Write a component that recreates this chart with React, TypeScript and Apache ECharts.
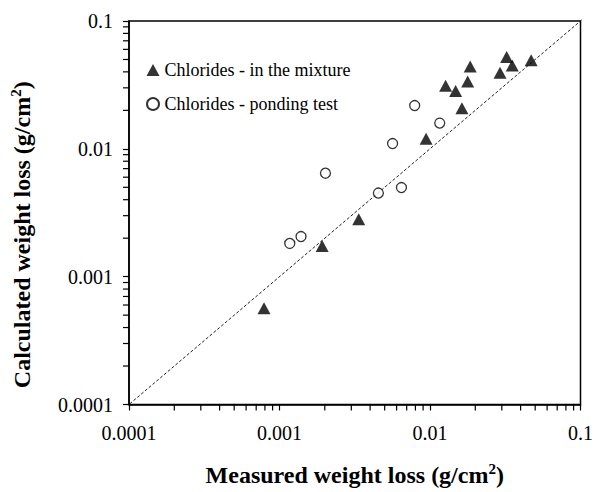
import React, { useEffect, useRef } from "react";
import * as echarts from "echarts";

// Measured (x) vs calculated (y) weight loss, g/cm2
const mixtureMeasured = [0.0185, 0.0323, 0.047, 0.0292, 0.0352, 0.0178, 0.0127, 0.0148, 0.0163, 0.00942, 0.00336, 0.00192, 0.000789];
const mixtureCalculated = [0.0441, 0.0524, 0.0494, 0.0393, 0.0449, 0.0336, 0.0312, 0.0283, 0.0208, 0.012, 0.00281, 0.00174, 0.000565];

const pondingMeasured = [0.00791, 0.0116, 0.00564, 0.00202, 0.00646, 0.00454, 0.00139, 0.00117];
const pondingCalculated = [0.0218, 0.0159, 0.011, 0.00645, 0.00498, 0.00451, 0.00206, 0.00182];

const seriesNames = ["Chlorides - in the mixture", "Chlorides - ponding test"];
const tickLabels = ["0.0001", "0.001", "0.01", "0.1"];
const axisMin = 0.0001;
const axisMax = 0.1;
const lineEnds = [0.00009, 0.11];

const FONT = "'Liberation Serif', 'Times New Roman', serif";

function minorTicks(): number[] {
  const out: number[] = [];
  for (let e = -4; e <= -2; e++) {
    for (let k = 2; k <= 9; k++) out.push(k * Math.pow(10, e));
  }
  return out;
}

export default function App() {
  const ref = useRef<HTMLDivElement>(null);
  useEffect(() => {
    if (!ref.current) return;
    const chart = echarts.init(ref.current, null, { renderer: "svg" });
    const minors = minorTicks();
    const fmt = (v: number) => {
      const e = Math.round(Math.log10(v));
      return tickLabels[e + 4] ?? "";
    };
    const rich = {
      t: { fontFamily: FONT, fontSize: 24, fontWeight: "bold", color: "#000", lineHeight: 27 },
      s: { fontFamily: FONT, fontSize: 15, fontWeight: "bold", color: "#000", lineHeight: 15, verticalAlign: "top" },
    };
    const axisCommon = {
      type: "log" as const,
      logBase: 10,
      min: axisMin,
      max: axisMax,
      axisLine: { lineStyle: { color: "#000", width: 1.5 } },
      axisTick: { show: true, inside: false, length: 6, lineStyle: { color: "#000", width: 1.2 } },
      splitLine: { show: false },
      axisLabel: { formatter: fmt, color: "#000", fontFamily: FONT, fontSize: 20 },
      nameLocation: "middle" as const,
    };
    chart.setOption({
      animation: false,
      backgroundColor: "#fff",
      grid: {
        left: 123,
        top: 21,
        right: 15,
        bottom: 72,
        show: true,
        borderColor: "#000",
        borderWidth: 1.5,
        backgroundColor: "transparent",
      },
      xAxis: {
        ...axisCommon,
        axisLabel: { ...axisCommon.axisLabel, margin: 18 },
        name: "{t|Measured weight loss (g/cm}{s|2}{t|)}",
        nameGap: 57,
        nameTextStyle: { rich },
      },
      yAxis: {
        ...axisCommon,
        axisLabel: { ...axisCommon.axisLabel, margin: 16 },
        name: "{t|Calculated weight loss (g/cm}{s|2}{t|)}",
        nameGap: 94,
        nameRotate: 90,
        nameTextStyle: { rich, padding: [0, 44, 0, 0] },
      },
      legend: {
        orient: "vertical",
        left: 141,
        top: 55,
        itemWidth: 13,
        itemHeight: 12,
        itemGap: 14,
        data: seriesNames,
        textStyle: { fontFamily: FONT, fontSize: 18, color: "#000", lineHeight: 20 },
        selectedMode: false,
      },
      series: [
        {
          type: "line",
          data: lineEnds.map((v) => [v, v]),
          symbol: "none",
          clip: false,
          silent: true,
          lineStyle: { color: "#222", width: 1, type: [3, 2] },
          z: 1,
        },
        {
          type: "custom",
          silent: true,
          clip: false,
          data: minors.map((v) => [v, axisMin]),
          renderItem: (params: any, api: any) => {
            const p = api.coord([api.value(0), axisMin]);
            return {
              type: "line",
              shape: { x1: p[0], y1: p[1], x2: p[0], y2: p[1] + 6 },
              style: { stroke: "#000", lineWidth: 1.2 },
            };
          },
          z: 3,
        },
        {
          type: "custom",
          silent: true,
          clip: false,
          data: minors.map((v) => [axisMin, v]),
          renderItem: (params: any, api: any) => {
            const p = api.coord([axisMin, api.value(1)]);
            return {
              type: "line",
              shape: { x1: p[0] - 6, y1: p[1], x2: p[0], y2: p[1] },
              style: { stroke: "#000", lineWidth: 1.2 },
            };
          },
          z: 3,
        },
        {
          name: seriesNames[0],
          type: "scatter",
          symbol: "triangle",
          symbolSize: [13, 12],
          itemStyle: { color: "#000" },
          data: mixtureMeasured.map((x, i) => [x, mixtureCalculated[i]]),
          z: 5,
        },
        {
          name: seriesNames[1],
          type: "scatter",
          symbol: "circle",
          symbolSize: 10,
          itemStyle: { color: "#fff", borderColor: "#000", borderWidth: 1.3 },
          data: pondingMeasured.map((x, i) => [x, pondingCalculated[i]]),
          z: 5,
        },
      ],
    });
    return () => chart.dispose();
  }, []);
  return (
    <div
      ref={ref}
      style={{ position: "fixed", left: 0, top: 0, width: 596, height: 492, background: "#fff" }}
    />
  );
}
